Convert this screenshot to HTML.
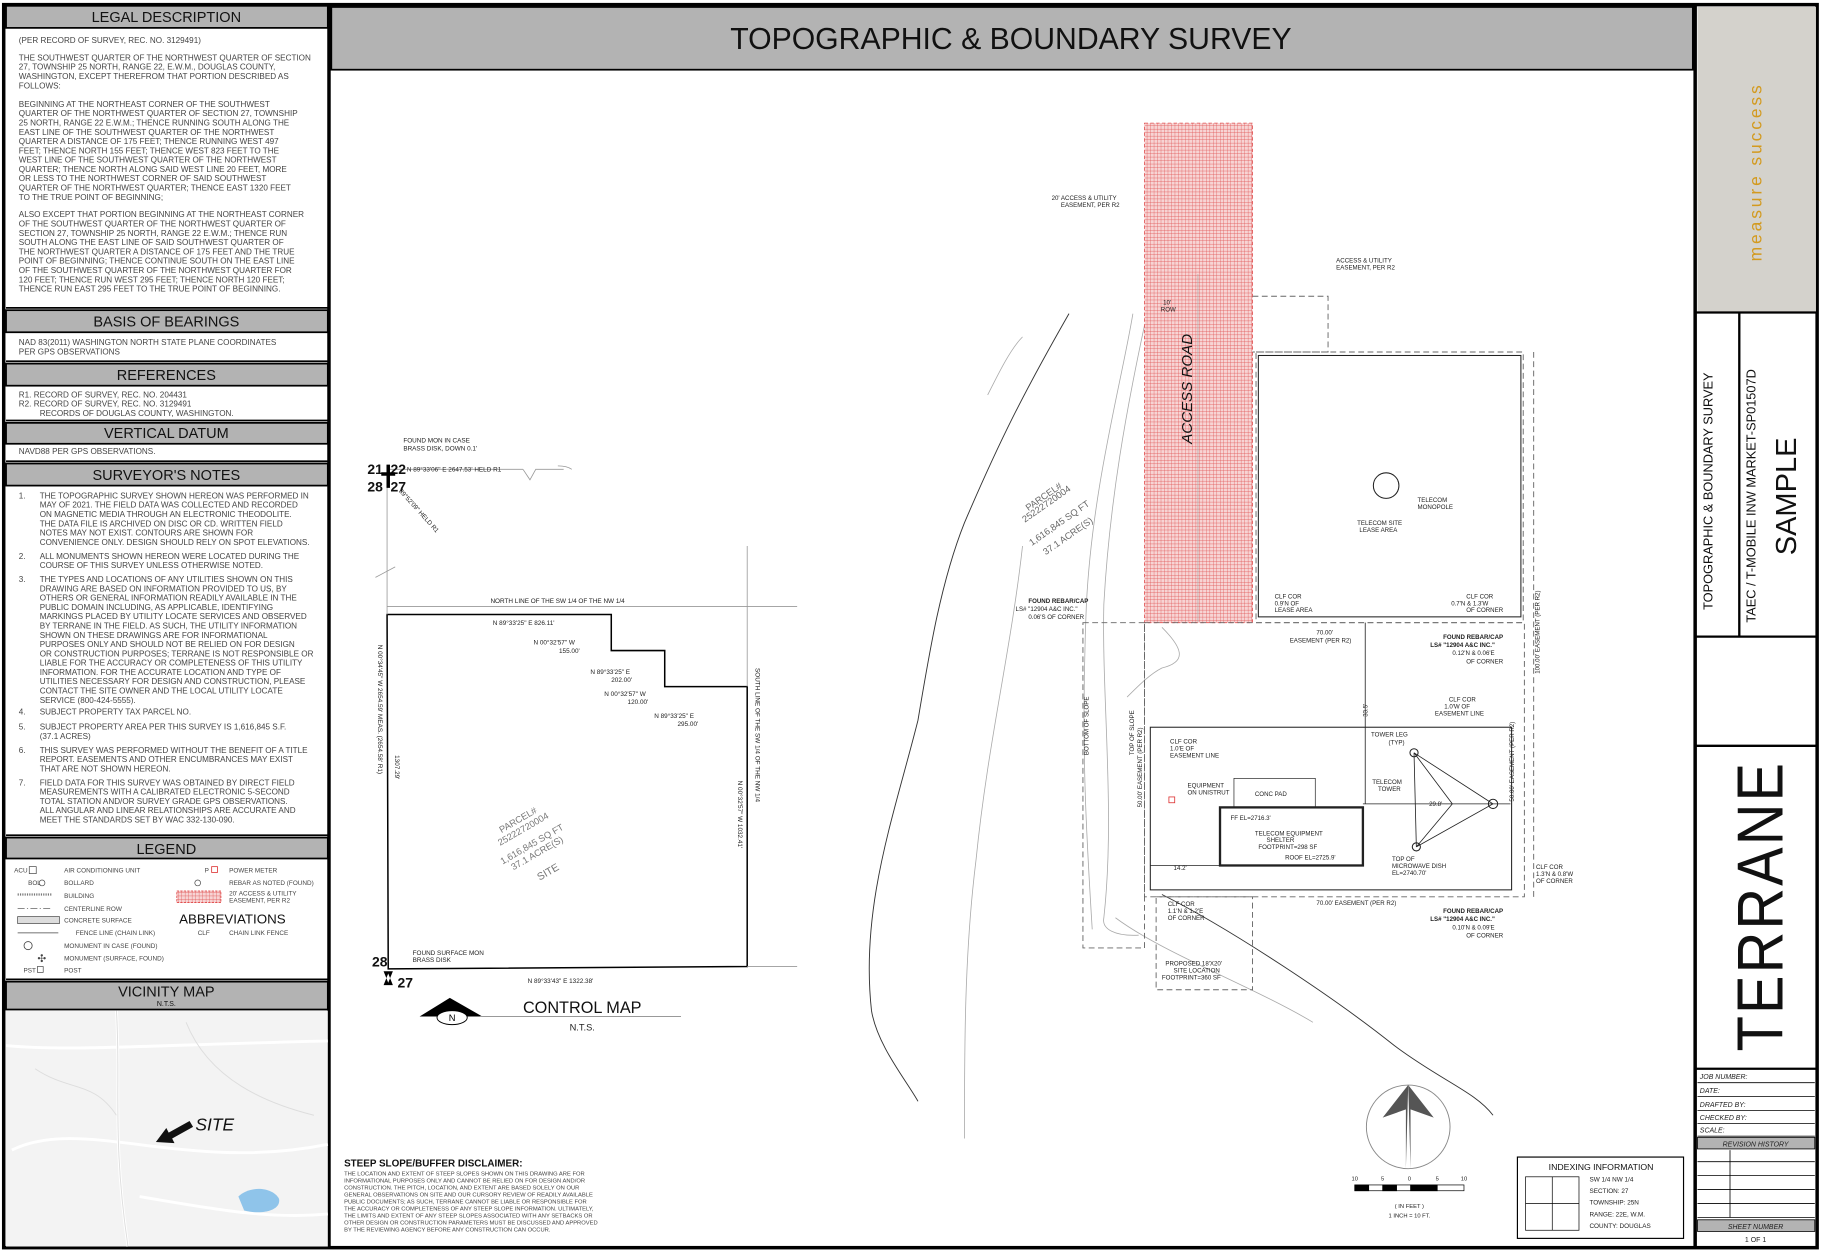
<!DOCTYPE html>
<html><head><meta charset="utf-8"><style>
html,body{margin:0;padding:0;background:#fff}
svg{display:block}
text{font-family:"Liberation Sans",sans-serif}
</style></head><body>
<svg width="1822" height="1250" viewBox="0 0 1568 1076" xmlns="http://www.w3.org/2000/svg">
<defs>
<pattern id="hatch" width="3" height="3" patternUnits="userSpaceOnUse">
<rect width="3" height="3" fill="#f7d4d4"/><path d="M0 0H3M0 0V3" stroke="#e05050" stroke-width="0.6"/>
</pattern>
</defs>
<rect x="0" y="0" width="1568" height="1076" fill="#fff"/>
<rect x="3" y="4" width="1561" height="1070" fill="none" stroke="#000" stroke-width="3"/>
<line x1="283" y1="4" x2="283" y2="1074" stroke="#000" stroke-width="3"/>
<line x1="1459" y1="4" x2="1459" y2="1074" stroke="#000" stroke-width="3"/>

<!-- LEFT PANEL -->
<g stroke="#000" stroke-width="1.5"><line x1="5" y1="265" x2="282" y2="265"/><line x1="5" y1="311" x2="282" y2="311"/><line x1="5" y1="362" x2="282" y2="362"/><line x1="5" y1="397" x2="282" y2="397"/><line x1="5" y1="719" x2="282" y2="719"/><line x1="5" y1="843" x2="282" y2="843"/></g>
<g font-size="12.5" text-anchor="middle" fill="#111">
<rect x="5" y="5" width="277" height="19" fill="#b3b3b3" stroke="#000" stroke-width="1.5"/><text x="143" y="19">LEGAL DESCRIPTION</text>
<rect x="5" y="267" width="277" height="19" fill="#b3b3b3" stroke="#000" stroke-width="1.5"/><text x="143" y="281">BASIS OF BEARINGS</text>
<rect x="5" y="313" width="277" height="19" fill="#b3b3b3" stroke="#000" stroke-width="1.5"/><text x="143" y="327">REFERENCES</text>
<rect x="5" y="364" width="277" height="18" fill="#b3b3b3" stroke="#000" stroke-width="1.5"/><text x="143" y="377">VERTICAL DATUM</text>
<rect x="5" y="399" width="277" height="19" fill="#b3b3b3" stroke="#000" stroke-width="1.5"/><text x="143" y="413">SURVEYOR'S NOTES</text>
<rect x="5" y="721" width="277" height="18" fill="#b3b3b3" stroke="#000" stroke-width="1.5"/><text x="143" y="735">LEGEND</text>
<rect x="5" y="845" width="277" height="24" fill="#b3b3b3" stroke="#000" stroke-width="1.5"/><text x="143" y="858">VICINITY MAP</text><text x="143" y="866" font-size="6">N.T.S.</text>
</g>
<g font-size="7" fill="#444">
<text x="16" y="37">(PER RECORD OF SURVEY, REC. NO. 3129491)</text>
<text x="16" y="52">THE SOUTHWEST QUARTER OF THE NORTHWEST QUARTER OF SECTION</text>
<text x="16" y="60">27, TOWNSHIP 25 NORTH, RANGE 22, E.W.M., DOUGLAS COUNTY,</text>
<text x="16" y="68">WASHINGTON, EXCEPT THEREFROM THAT PORTION DESCRIBED AS</text>
<text x="16" y="76">FOLLOWS:</text>
<text x="16" y="92">BEGINNING AT THE NORTHEAST CORNER OF THE SOUTHWEST</text>
<text x="16" y="100">QUARTER OF THE NORTHWEST QUARTER OF SECTION 27, TOWNSHIP</text>
<text x="16" y="108">25 NORTH, RANGE 22 E.W.M.; THENCE RUNNING SOUTH ALONG THE</text>
<text x="16" y="116">EAST LINE OF THE SOUTHWEST QUARTER OF THE NORTHWEST</text>
<text x="16" y="124">QUARTER A DISTANCE OF 175 FEET; THENCE RUNNING WEST 497</text>
<text x="16" y="132">FEET; THENCE NORTH 155 FEET; THENCE WEST 823 FEET TO THE</text>
<text x="16" y="140">WEST LINE OF THE SOUTHWEST QUARTER OF THE NORTHWEST</text>
<text x="16" y="148">QUARTER; THENCE NORTH ALONG SAID WEST LINE 20 FEET, MORE</text>
<text x="16" y="156">OR LESS TO THE NORTHWEST CORNER OF SAID SOUTHWEST</text>
<text x="16" y="164">QUARTER OF THE NORTHWEST QUARTER; THENCE EAST 1320 FEET</text>
<text x="16" y="172">TO THE TRUE POINT OF BEGINNING;</text>
<text x="16" y="187">ALSO EXCEPT THAT PORTION BEGINNING AT THE NORTHEAST CORNER</text>
<text x="16" y="195">OF THE SOUTHWEST QUARTER OF THE NORTHWEST QUARTER OF</text>
<text x="16" y="203">SECTION 27, TOWNSHIP 25 NORTH, RANGE 22 E.W.M.; THENCE RUN</text>
<text x="16" y="211">SOUTH ALONG THE EAST LINE OF SAID SOUTHWEST QUARTER OF</text>
<text x="16" y="219">THE NORTHWEST QUARTER A DISTANCE OF 175 FEET AND THE TRUE</text>
<text x="16" y="227">POINT OF BEGINNING; THENCE CONTINUE SOUTH ON THE EAST LINE</text>
<text x="16" y="235">OF THE SOUTHWEST QUARTER OF THE NORTHWEST QUARTER FOR</text>
<text x="16" y="243">120 FEET; THENCE RUN WEST 295 FEET; THENCE NORTH 120 FEET;</text>
<text x="16" y="251">THENCE RUN EAST 295 FEET TO THE TRUE POINT OF BEGINNING.</text>
<text x="16" y="297">NAD 83(2011) WASHINGTON NORTH STATE PLANE COORDINATES</text>
<text x="16" y="305">PER GPS OBSERVATIONS</text>
<text x="16" y="342">R1.  RECORD OF SURVEY, REC. NO. 204431</text>
<text x="16" y="350">R2.  RECORD OF SURVEY, REC. NO. 3129491</text>
<text x="34" y="358">RECORDS OF DOUGLAS COUNTY, WASHINGTON.</text>
<text x="16" y="391">NAVD88 PER GPS OBSERVATIONS.</text>
<text x="16" y="429">1.</text>
<text x="34" y="429">THE TOPOGRAPHIC SURVEY SHOWN HEREON WAS PERFORMED IN</text>
<text x="34" y="437">MAY OF 2021. THE FIELD DATA WAS COLLECTED AND RECORDED</text>
<text x="34" y="445">ON MAGNETIC MEDIA THROUGH AN ELECTRONIC THEODOLITE.</text>
<text x="34" y="453">THE DATA FILE IS ARCHIVED ON DISC OR CD.  WRITTEN FIELD</text>
<text x="34" y="461">NOTES MAY NOT EXIST. CONTOURS ARE SHOWN FOR</text>
<text x="34" y="469">CONVENIENCE ONLY. DESIGN SHOULD RELY ON SPOT ELEVATIONS.</text>
<text x="16" y="481">2.</text>
<text x="34" y="481">ALL MONUMENTS SHOWN HEREON WERE LOCATED DURING THE</text>
<text x="34" y="489">COURSE OF THIS SURVEY UNLESS OTHERWISE NOTED.</text>
<text x="16" y="501">3.</text>
<text x="34" y="501">THE TYPES AND LOCATIONS OF ANY UTILITIES SHOWN ON THIS</text>
<text x="34" y="509">DRAWING ARE BASED ON INFORMATION PROVIDED TO US, BY</text>
<text x="34" y="517">OTHERS OR GENERAL INFORMATION READILY AVAILABLE IN THE</text>
<text x="34" y="525">PUBLIC DOMAIN INCLUDING, AS APPLICABLE, IDENTIFYING</text>
<text x="34" y="533">MARKINGS PLACED BY UTILITY LOCATE SERVICES AND OBSERVED</text>
<text x="34" y="541">BY TERRANE IN THE FIELD.  AS SUCH, THE UTILITY INFORMATION</text>
<text x="34" y="549">SHOWN ON THESE DRAWINGS ARE FOR INFORMATIONAL</text>
<text x="34" y="557">PURPOSES ONLY AND SHOULD NOT BE RELIED ON FOR DESIGN</text>
<text x="34" y="565">OR CONSTRUCTION PURPOSES; TERRANE IS NOT RESPONSIBLE OR</text>
<text x="34" y="573">LIABLE FOR THE ACCURACY OR COMPLETENESS OF THIS UTILITY</text>
<text x="34" y="581">INFORMATION.  FOR THE ACCURATE LOCATION AND TYPE OF</text>
<text x="34" y="589">UTILITIES NECESSARY FOR DESIGN AND CONSTRUCTION, PLEASE</text>
<text x="34" y="597">CONTACT THE SITE OWNER AND THE LOCAL UTILITY LOCATE</text>
<text x="34" y="605">SERVICE (800-424-5555).</text>
<text x="16" y="615">4.</text><text x="34" y="615">SUBJECT PROPERTY TAX PARCEL NO.</text>
<text x="16" y="628">5.</text><text x="34" y="628">SUBJECT PROPERTY AREA PER THIS SURVEY IS 1,616,845 S.F.</text>
<text x="34" y="636">(37.1 ACRES)</text>
<text x="16" y="648">6.</text><text x="34" y="648">THIS SURVEY WAS PERFORMED WITHOUT THE BENEFIT OF A TITLE</text>
<text x="34" y="656">REPORT. EASEMENTS AND OTHER ENCUMBRANCES MAY EXIST</text>
<text x="34" y="664">THAT ARE NOT SHOWN HEREON.</text>
<text x="16" y="676">7.</text><text x="34" y="676">FIELD DATA FOR THIS SURVEY WAS OBTAINED BY DIRECT FIELD</text>
<text x="34" y="684">MEASUREMENTS WITH A CALIBRATED ELECTRONIC 5-SECOND</text>
<text x="34" y="692">TOTAL STATION AND/OR SURVEY GRADE GPS OBSERVATIONS.</text>
<text x="34" y="700">ALL ANGULAR AND LINEAR RELATIONSHIPS ARE ACCURATE AND</text>
<text x="34" y="708">MEET THE STANDARDS SET BY WAC 332-130-090.</text>
</g>
<!-- legend -->
<g font-size="5.5" fill="#444">
<text x="12" y="751">ACU</text><rect x="25" y="746" width="6" height="6" fill="none" stroke="#444" stroke-width="0.6"/><text x="55" y="751">AIR CONDITIONING UNIT</text>
<text x="24" y="762">BOL</text><circle cx="36" cy="760" r="2.5" fill="none" stroke="#444" stroke-width="0.6"/><text x="55" y="762">BOLLARD</text>
<line x1="15" y1="770" x2="45" y2="770" stroke="#777" stroke-width="2" stroke-dasharray="1 1"/><text x="55" y="773">BUILDING</text>
<line x1="15" y1="782" x2="45" y2="782" stroke="#444" stroke-width="0.6" stroke-dasharray="6 2 1 2"/><text x="55" y="784">CENTERLINE ROW</text>
<rect x="15" y="789" width="36" height="6" fill="#ddd" stroke="#444" stroke-width="0.6"/><text x="55" y="794">CONCRETE SURFACE</text>
<line x1="15" y1="803" x2="50" y2="803" stroke="#444" stroke-width="0.7"/><text x="65" y="805">FENCE LINE (CHAIN LINK)</text>
<circle cx="24" cy="814" r="3.5" fill="none" stroke="#444" stroke-width="0.7"/><text x="55" y="816">MONUMENT IN CASE (FOUND)</text>
<text x="32" y="828" font-size="9">✣</text><text x="55" y="827">MONUMENT (SURFACE, FOUND)</text>
<text x="20" y="837">PST</text><rect x="32" y="832" width="5" height="5" fill="none" stroke="#444" stroke-width="0.6"/><text x="55" y="837">POST</text>
<text x="176" y="751">P</text><rect x="182" y="746" width="5" height="5" fill="none" stroke="#d33" stroke-width="0.7"/><text x="197" y="751">POWER METER</text>
<circle cx="170" cy="760" r="2.5" fill="none" stroke="#444" stroke-width="0.6"/><text x="197" y="762">REBAR AS NOTED (FOUND)</text>
<rect x="152" y="767" width="38" height="10" fill="url(#hatch)" stroke="#d33" stroke-width="0.6" stroke-dasharray="2 1"/><text x="197" y="771">20' ACCESS &amp; UTILITY</text><text x="197" y="777">EASEMENT, PER R2</text>
<text x="154" y="795" font-size="11.5" fill="#111">ABBREVIATIONS</text>
<text x="170" y="805">CLF</text><text x="197" y="805">CHAIN LINK FENCE</text>
</g>
<!-- vicinity map -->
<rect x="5" y="870" width="277" height="203" fill="#f3f3f3"/>
<g fill="none" stroke="#fff" stroke-width="2.5">
<path d="M100 870 C104 930 96 980 110 1073"/>
<path d="M5 900 C60 905 120 900 282 896"/>
<path d="M10 990 C70 960 160 1010 282 985"/>
<path d="M120 1030 C180 1040 230 1050 282 1045"/>
</g>
<g fill="none" stroke="#ddd" stroke-width="0.8"><path d="M30 920 C60 940 80 930 100 960"/><path d="M160 880 C180 930 230 950 270 960"/><path d="M100 870 C104 930 96 980 110 1073"/></g>
<path d="M205 1030 C215 1020 235 1022 240 1032 C242 1042 225 1046 210 1042 Z" fill="#8fc4ea"/>
<path d="M134 983 L150 984 L148 980 L166 970 L163 965 L145 975 L143 971 Z" fill="#111"/>
<text x="168" y="973" font-size="15" font-style="italic" fill="#111">SITE</text>

<!-- TITLE BAR -->
<rect x="285" y="6" width="1172" height="54" fill="#b3b3b3" stroke="#000" stroke-width="1.5"/>
<text x="870" y="42" font-size="26" text-anchor="middle" fill="#111">TOPOGRAPHIC &amp; BOUNDARY SURVEY</text>

<!-- RIGHT TITLE BLOCK -->
<rect x="1461" y="6" width="102" height="263" fill="#d4d2cc"/>
<line x1="1460" y1="269" x2="1564" y2="269" stroke="#000" stroke-width="2"/>
<text transform="translate(1516,225) rotate(-90)" font-size="15" fill="#d39a1e" letter-spacing="2.5">measure success</text>
<line x1="1497" y1="269" x2="1497" y2="548" stroke="#000" stroke-width="2"/>
<text transform="translate(1474,525) rotate(-90)" font-size="11" fill="#111">TOPOGRAPHIC &amp; BOUNDARY SURVEY</text>
<text transform="translate(1511,536) rotate(-90)" font-size="11" fill="#111">TAEC / T-MOBILE INW MARKET-SP01507D</text>
<text transform="translate(1546,478) rotate(-90)" font-size="25" fill="#111">SAMPLE</text>
<line x1="1460" y1="548" x2="1564" y2="548" stroke="#000" stroke-width="2"/>
<line x1="1460" y1="642" x2="1564" y2="642" stroke="#000" stroke-width="2"/>
<text transform="translate(1534,905) rotate(-90)" font-size="56" fill="#111" letter-spacing="2" textLength="250" lengthAdjust="spacingAndGlyphs">TERRANE</text>
<line x1="1460" y1="920" x2="1564" y2="920" stroke="#000" stroke-width="2"/>
<g stroke="#000" stroke-width="0.7">
<line x1="1461" y1="932" x2="1562" y2="932"/><line x1="1461" y1="944" x2="1562" y2="944"/><line x1="1461" y1="956" x2="1562" y2="956"/><line x1="1461" y1="967" x2="1562" y2="967"/><line x1="1461" y1="978" x2="1562" y2="978"/>
<line x1="1461" y1="1000" x2="1562" y2="1000"/><line x1="1461" y1="1012" x2="1562" y2="1012"/><line x1="1461" y1="1024" x2="1562" y2="1024"/><line x1="1461" y1="1036" x2="1562" y2="1036"/><line x1="1461" y1="1048" x2="1562" y2="1048"/>
<line x1="1489" y1="990" x2="1489" y2="1048"/>
</g>
<rect x="1461" y="979" width="101" height="10" fill="#b3b3b3" stroke="#000" stroke-width="0.7"/>
<rect x="1461" y="1050" width="101" height="10" fill="#b3b3b3" stroke="#000" stroke-width="0.7"/>
<g font-size="6" font-style="italic" fill="#222">
<text x="1463" y="929">JOB NUMBER:</text><text x="1463" y="941">DATE:</text><text x="1463" y="953">DRAFTED BY:</text><text x="1463" y="964">CHECKED BY:</text><text x="1463" y="975">SCALE:</text>
<text x="1511" y="987" text-anchor="middle">REVISION HISTORY</text>
<text x="1511" y="1058" text-anchor="middle">SHEET NUMBER</text>
<text x="1511" y="1069" text-anchor="middle" font-style="normal">1 OF 1</text>
</g>

<!-- CONTROL MAP -->
<path d="M333 529 L526 529 L526 560 L572 560 L572 591 L643 591 L643 832 L334 834 Z" fill="none" stroke="#000" stroke-width="1.3"/>
<line x1="333" y1="404" x2="333" y2="529" stroke="#999" stroke-width="0.7"/>
<line x1="333" y1="522" x2="686" y2="522" stroke="#999" stroke-width="0.7"/>
<line x1="643" y1="470" x2="643" y2="591" stroke="#999" stroke-width="0.7"/>
<line x1="643" y1="832" x2="686" y2="832" stroke="#999" stroke-width="0.7"/>
<line x1="333" y1="404" x2="450" y2="404" stroke="#999" stroke-width="0.7"/>
<path d="M450 404 L456 413 L461 404 L485 404 M480 401 Q488 401 492 404" fill="none" stroke="#999" stroke-width="0.7"/>
<path d="M323 497 L340 488" fill="none" stroke="#999" stroke-width="0.7"/>
<g font-size="5.5" fill="#222">
<text x="347" y="381">FOUND MON IN CASE</text><text x="347" y="388">BRASS DISK, DOWN 0.1'</text>
<text x="350" y="406">N 89°33'06" E   2647.53' HELD R1</text>
<text transform="translate(343,423) rotate(48)">89°52'09" HELD R1</text>
<text x="422" y="519">NORTH LINE OF THE SW 1/4 OF THE NW 1/4</text>
<text x="424" y="538">N 89°33'25" E   826.11'</text>
<text x="459" y="555">N 00°32'57" W</text><text x="481" y="562">155.00'</text>
<text x="508" y="580">N 89°33'25" E</text><text x="526" y="587">202.00'</text>
<text x="520" y="599">N 00°32'57" W</text><text x="540" y="606">120.00'</text>
<text x="563" y="618">N 89°33'25" E</text><text x="583" y="625">295.00'</text>
<text transform="translate(325,555) rotate(90)">N 00°34'45" W   2654.59' MEAS. (2654.58' R1)</text>
<text transform="translate(340,650) rotate(90)">1307.29'</text>
<text transform="translate(650,575) rotate(90)">SOUTH LINE OF THE SW 1/4 OF THE NW 1/4</text>
<text transform="translate(635,672) rotate(90)">N 00°32'57" W   1032.41'</text>
<text x="355" y="822">FOUND SURFACE MON</text><text x="355" y="828">BRASS DISK</text>
<text x="454" y="846">N 89°33'43" E   1322.38'</text>
</g>
<g font-size="12" font-weight="bold" fill="#111">
<text x="316" y="408">21</text><text x="336" y="408">22</text><text x="316" y="423">28</text><text x="336" y="423">27</text>
<text x="320" y="832">28</text><text x="342" y="850">27</text>
</g>
<path d="M328 408 L340 408 M334 400 L334 420" stroke="#000" stroke-width="3"/>
<path d="M330 836 L338 836 L334 846 Z M334 838 L330 848 L338 848 Z" fill="#000"/>
<g fill="#777" font-size="8" text-anchor="middle" transform="translate(455,722) rotate(-30)">
<text x="0" y="-16">PARCEL#</text><text x="0" y="-7">25222720004</text><text x="0" y="8">1,616,845 SQ FT</text><text x="0" y="17">37.1 ACRE(S)</text><text x="0" y="36" font-size="9">SITE</text>
</g>
<path d="M361 875 L387 859 L415 875 Z" fill="#000"/>
<ellipse cx="389" cy="876" rx="13" ry="6" fill="#fff" stroke="#000" stroke-width="0.8"/>
<text x="389" y="879" font-size="8" text-anchor="middle">N</text>
<line x1="413" y1="875" x2="586" y2="875" stroke="#999" stroke-width="0.8"/>
<text x="501" y="872" font-size="14" text-anchor="middle" fill="#111">CONTROL MAP</text>
<text x="501" y="887" font-size="8" text-anchor="middle" fill="#222">N.T.S.</text>

<!-- SITE PLAN -->
<g fill="none" stroke="#333" stroke-width="0.8">
<path d="M920 270 C880 340 860 380 830 450 C810 500 800 560 790 620 C770 700 740 780 750 870 C755 900 780 930 790 948"/>
<path d="M1000 770 C1060 800 1150 860 1200 900 C1240 930 1270 940 1285 960"/>
</g>
<g fill="none" stroke="#aaa" stroke-width="0.7">
<path d="M975 270 C965 330 940 420 935 520 C930 640 935 720 940 800"/>
<path d="M985 280 C970 350 955 430 950 520 C948 600 960 700 950 790 C948 800 960 806 980 805"/>
<path d="M880 470 C870 560 850 640 840 740 C830 820 830 900 830 980"/>
<path d="M880 290 C870 300 860 320 850 340"/>
<path d="M960 790 C1000 820 1080 850 1130 880"/>
<path d="M1000 540 C1020 560 1020 570 1000 575 C990 580 980 590 970 600"/>
</g>
<rect x="985" y="106" width="93" height="430" fill="url(#hatch)" stroke="#e05050" stroke-width="0.7" stroke-dasharray="3 2"/>
<line x1="1031" y1="236" x2="1031" y2="536" stroke="#aaa" stroke-width="0.6"/>
<text transform="translate(1026,382) rotate(-90)" font-size="13" font-style="italic" fill="#111">ACCESS ROAD</text>
<g fill="none" stroke="#666" stroke-width="0.8" stroke-dasharray="5 3">
<path d="M1078 255 L1143 255 L1143 303 L1078 303"/>
<rect x="1081" y="303" width="230" height="233"/>
<rect x="985" y="536" width="327" height="236"/>
<rect x="932" y="536" width="53" height="280"/>
<rect x="995" y="772" width="83" height="80"/>
<line x1="1320" y1="303" x2="1320" y2="772"/>
</g>
<g fill="none" stroke="#222" stroke-width="0.9">
<rect x="1083" y="306" width="226" height="225"/>
<rect x="990" y="626" width="311" height="140"/>
<rect x="1050" y="695" width="123" height="50" stroke-width="2"/>
<rect x="1062" y="670" width="70" height="25" stroke-width="0.6"/>
<circle cx="1193" cy="418" r="11"/>
<path d="M1217 648 L1285 692 L1219 729 M1217 648 L1219 729 M1217 648 L1250 692 L1219 729 M1173 692 L1300 692" stroke-width="0.7"/>
<circle cx="1217" cy="648" r="3.5"/><circle cx="1285" cy="692" r="4"/><circle cx="1219" cy="729" r="3.5"/>
<line x1="1175" y1="536" x2="1175" y2="692" stroke-width="0.7"/>
<line x1="990" y1="745" x2="1050" y2="745" stroke-width="0.7"/>
</g>
<g font-size="5.3" fill="#222">
<text x="905" y="172">20' ACCESS &amp; UTILITY</text><text x="913" y="178">EASEMENT, PER R2</text>
<text x="1150" y="226">ACCESS &amp; UTILITY</text><text x="1150" y="232">EASEMENT, PER R2</text>
<text x="1220" y="432">TELECOM</text><text x="1220" y="438">MONOPOLE</text>
<text x="1168" y="452">TELECOM SITE</text><text x="1170" y="458">LEASE AREA</text>
<text x="1001" y="262">10'</text><text x="999" y="268">ROW</text>
<text x="1097" y="515">CLF COR</text><text x="1097" y="521">0.9'N OF</text><text x="1097" y="527">LEASE AREA</text>
<text x="1262" y="515">CLF COR</text><text x="1249" y="521">0.7'N &amp; 1.3'W</text><text x="1262" y="527">OF CORNER</text>
<text x="1242" y="550" font-weight="bold">FOUND REBAR/CAP</text><text x="1231" y="557" font-weight="bold">LS# "12904 A&amp;C INC."</text><text x="1250" y="564">0.12'N &amp; 0.06'E</text><text x="1262" y="571">OF CORNER</text>
<text x="885" y="519" font-weight="bold">FOUND REBAR/CAP</text><text x="874" y="526">LS# "12904 A&amp;C INC."</text><text x="885" y="533">0.06'S OF CORNER</text>
<text x="1133" y="546">70.00'</text><text x="1110" y="553">EASEMENT (PER R2)</text>
<text x="1007" y="640">CLF COR</text><text x="1007" y="646">1.0'E OF</text><text x="1007" y="652">EASEMENT LINE</text>
<text x="1247" y="604">CLF COR</text><text x="1243" y="610">1.0'W OF</text><text x="1235" y="616">EASEMENT LINE</text>
<text x="1180" y="634">TOWER LEG</text><text x="1195" y="641">(TYP)</text>
<text x="1181" y="675">TELECOM</text><text x="1186" y="681">TOWER</text>
<text x="1230" y="694">29.8'</text>
<text x="1022" y="678">EQUIPMENT</text><text x="1022" y="684">ON UNISTRUT</text>
<text x="1080" y="685">CONC PAD</text>
<text x="1059" y="706">FF EL=2716.3'</text>
<text x="1080" y="719">TELECOM EQUIPMENT</text><text x="1090" y="725">SHELTER</text><text x="1083" y="731">FOOTPRINT=298 SF</text>
<text x="1106" y="740">ROOF EL=2725.9'</text>
<text x="1198" y="741">TOP OF</text><text x="1198" y="747">MICROWAVE DISH</text><text x="1198" y="753">EL=2740.70'</text>
<text x="1010" y="749">14.2'</text>
<text x="1133" y="779">70.00' EASEMENT (PER R2)</text>
<text x="1005" y="780">CLF COR</text><text x="1005" y="786">1.1'N &amp; 1.2'E</text><text x="1005" y="792">OF CORNER</text>
<text x="1322" y="748">CLF COR</text><text x="1322" y="754">1.3'N &amp; 0.8'W</text><text x="1322" y="760">OF CORNER</text>
<text x="1242" y="786" font-weight="bold">FOUND REBAR/CAP</text><text x="1231" y="793" font-weight="bold">LS# "12904 A&amp;C INC."</text><text x="1250" y="800">0.10'N &amp; 0.09'E</text><text x="1262" y="807">OF CORNER</text>
<text x="1003" y="831">PROPOSED 18'X20'</text><text x="1010" y="837">SITE LOCATION</text><text x="1000" y="843">FOOTPRINT=360 SF</text>
<text transform="translate(983,695) rotate(-90)">50.00' EASEMENT (PER R2)</text>
<text transform="translate(976,650) rotate(-90)">TOP OF SLOPE</text>
<text transform="translate(937,650) rotate(-90)">BOTTOM OF SLOPE</text>
<text transform="translate(1303,690) rotate(-90)">50.00' EASEMENT (PER R2)</text>
<text transform="translate(1325,580) rotate(-90)">100.00' EASEMENT (PER R2)</text>
<text transform="translate(1177,617) rotate(-90)">33.5'</text>
<text transform="translate(885,440) rotate(-35)" font-size="8" fill="#666">PARCEL#</text>
<text transform="translate(882,450) rotate(-35)" font-size="8" fill="#666">25222720004</text>
<text transform="translate(888,470) rotate(-35)" font-size="8" fill="#666">1,616,845 SQ FT</text>
<text transform="translate(900,478) rotate(-35)" font-size="8" fill="#666">37.1 ACRE(S)</text>
</g>
<rect x="1006" y="686" width="5" height="5" fill="none" stroke="#d33" stroke-width="0.7"/>
<circle cx="1212" cy="970" r="36" fill="none" stroke="#888" stroke-width="0.8"/>
<path d="M1212 934 L1190 962 L1210 955 L1210 1006 Z" fill="#555"/>
<path d="M1212 934 L1234 962 L1214 955 L1214 1006 Z" fill="#555"/>
<g stroke="#000" stroke-width="0.6"><rect x="1166" y="1020" width="94" height="5" fill="#fff"/><rect x="1166" y="1020" width="12" height="5" fill="#000"/><rect x="1190" y="1020" width="12" height="5" fill="#000"/><rect x="1214" y="1020" width="23" height="5" fill="#000"/></g>
<g font-size="5" fill="#222" text-anchor="middle"><text x="1166" y="1016">10</text><text x="1190" y="1016">5</text><text x="1213" y="1016">0</text><text x="1237" y="1016">5</text><text x="1260" y="1016">10</text>
<text x="1213" y="1040">( IN FEET )</text><text x="1213" y="1048">1 INCH = 10 FT.</text></g>
<rect x="1306" y="996" width="143" height="70" fill="none" stroke="#000" stroke-width="1"/>
<text x="1378" y="1007" font-size="7.5" text-anchor="middle" fill="#111">INDEXING INFORMATION</text>
<rect x="1313" y="1013" width="46" height="46" fill="none" stroke="#000" stroke-width="0.6"/>
<path d="M1313 1036 H1359 M1336 1013 V1059" stroke="#000" stroke-width="0.6"/>
<g font-size="5.5" fill="#222"><text x="1368" y="1017">SW  1/4  NW  1/4</text><text x="1368" y="1027">SECTION: 27</text><text x="1368" y="1037">TOWNSHIP: 25N</text><text x="1368" y="1047">RANGE: 22E, W.M.</text><text x="1368" y="1057">COUNTY: DOUGLAS</text></g>
<text x="296" y="1004" font-size="8.5" font-weight="bold" fill="#111">STEEP SLOPE/BUFFER DISCLAIMER:</text>
<g font-size="5" fill="#444">
<text x="296" y="1012">THE LOCATION AND EXTENT OF STEEP SLOPES SHOWN ON THIS DRAWING ARE FOR</text>
<text x="296" y="1018">INFORMATIONAL PURPOSES ONLY AND CANNOT BE RELIED ON FOR DESIGN AND/OR</text>
<text x="296" y="1024">CONSTRUCTION. THE PITCH, LOCATION, AND EXTENT ARE BASED SOLELY ON OUR</text>
<text x="296" y="1030">GENERAL OBSERVATIONS ON SITE AND OUR CURSORY REVIEW OF READILY AVAILABLE</text>
<text x="296" y="1036">PUBLIC DOCUMENTS; AS SUCH, TERRANE CANNOT BE LIABLE OR RESPONSIBLE FOR</text>
<text x="296" y="1042">THE ACCURACY OR COMPLETENESS OF ANY STEEP SLOPE INFORMATION. ULTIMATELY,</text>
<text x="296" y="1048">THE LIMITS AND EXTENT OF ANY STEEP SLOPES ASSOCIATED WITH ANY SETBACKS OR</text>
<text x="296" y="1054">OTHER DESIGN OR CONSTRUCTION PARAMETERS MUST BE DISCUSSED AND APPROVED</text>
<text x="296" y="1060">BY THE REVIEWING AGENCY BEFORE ANY CONSTRUCTION CAN OCCUR.</text>
</g>
</svg>
</body></html>
